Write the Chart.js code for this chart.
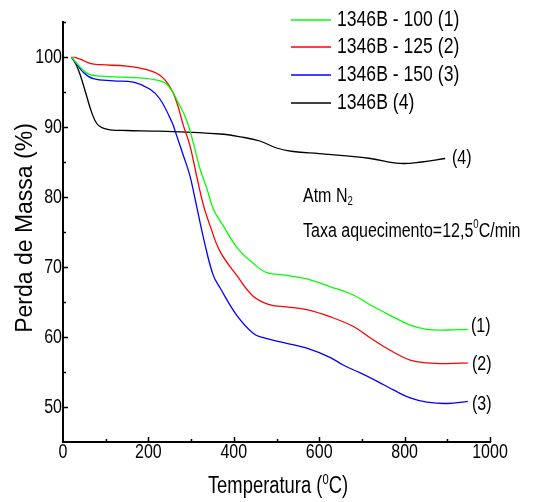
<!DOCTYPE html>
<html>
<head>
<meta charset="utf-8">
<script src="https://cdn.jsdelivr.net/npm/chart.js@4.4.1/dist/chart.umd.min.js"></script>
<style>
  html, body { margin: 0; padding: 0; background: #fff; }
  canvas { display: block; }
</style>
</head>
<body>
<canvas id="grafico" width="546" height="502"></canvas>
<script>
// datos (temperatura en C, masa en %)
const nombres = ["1346B - 100 (1)", "1346B - 125 (2)", "1346B - 150 (3)", "1346B (4)"];
const etiquetasCurva = ["(1)", "(2)", "(3)", "(4)"];
const colores = ["#00ff00", "#ff0000", "#0000ff", "#000000"];

const temp1 = [20, 32, 56, 79, 149, 211, 243, 274, 290, 305, 321, 337, 352, 375, 410, 446, 477, 524, 571, 625, 680, 719, 766, 813, 852, 900, 948];
const masa1 = [100, 99.1, 97.7, 97.3, 97.1, 96.8, 96.1, 93.0, 90.9, 87.8, 84.0, 81.2, 78.3, 75.9, 72.6, 70.5, 69.2, 68.8, 68.3, 67.2, 66.0, 64.6, 63.1, 61.7, 61.1, 61.0, 61.1];

const temp2 = [24, 40, 63, 87, 149, 196, 227, 251, 266, 282, 297, 313, 329, 345, 368, 407, 446, 485, 524, 571, 625, 680, 719, 766, 813, 852, 900, 948];
const masa2 = [100, 99.7, 99.1, 98.9, 98.7, 98.2, 97.4, 95.7, 93.6, 90.2, 87.4, 83.0, 78.8, 75.8, 72.2, 68.8, 65.8, 64.6, 64.3, 63.9, 62.9, 61.5, 59.9, 58.1, 56.7, 56.3, 56.2, 56.3];

const temp3 = [20, 32, 48, 71, 118, 165, 204, 227, 255, 266, 282, 297, 309, 333, 352, 368, 407, 446, 469, 524, 571, 625, 656, 695, 735, 775, 813, 852, 900, 948];
const masa3 = [100, 99.0, 97.8, 96.9, 96.6, 96.4, 95.4, 94.0, 90.7, 88.8, 85.9, 83.1, 79.8, 73.1, 68.8, 67.0, 63.1, 60.5, 59.9, 59.1, 58.4, 57.1, 56.0, 54.9, 53.7, 52.4, 51.3, 50.7, 50.5, 50.8];

const temp4 = [20, 30, 40, 55, 67, 79, 91, 110, 149, 227, 368, 415, 461, 500, 539, 600, 656, 720, 789, 840, 895];
const masa4 = [100, 99.0, 97.5, 94.5, 92.1, 90.5, 89.9, 89.6, 89.5, 89.4, 89.0, 88.6, 88.0, 87.0, 86.5, 86.2, 85.9, 85.5, 84.8, 85.0, 85.5];

const ticksX = [0, 200, 400, 600, 800, 1000];
const ticksY = [50, 60, 70, 80, 90, 100];

const fuente = '"Liberation Sans", Arial, sans-serif';
const angosto = 0.8; // el texto original esta comprimido en horizontal

function puntos(xs, ys) {
  return xs.map((x, i) => ({ x: x, y: ys[i] }));
}

const series = [
  puntos(temp1, masa1),
  puntos(temp2, masa2),
  puntos(temp3, masa3),
  puntos(temp4, masa4),
];

// escribe texto comprimido; partes = [texto, desplazamiento vertical]
// desplazamiento distinto de 0 => superindice / subindice
function texto(ctx, partes, x, y, tam, alinear) {
  ctx.save();
  const anchos = partes.map(([t, d]) => {
    ctx.font = `${d === 0 ? tam : Math.round(tam * 0.62)}px ${fuente}`;
    return ctx.measureText(t).width;
  });
  const total = anchos.reduce((a, b) => a + b, 0) * angosto;
  let x0 = x;
  if (alinear === "center") x0 = x - total / 2;
  if (alinear === "right") x0 = x - total;
  ctx.translate(x0, y);
  ctx.scale(angosto, 1);
  ctx.textAlign = "left";
  let cx = 0;
  partes.forEach(([t, d], i) => {
    ctx.font = `${d === 0 ? tam : Math.round(tam * 0.62)}px ${fuente}`;
    ctx.fillText(t, cx, d);
    cx += anchos[i];
  });
  ctx.restore();
}

// ticks hacia adentro, etiquetas de ejes, leyenda y anotaciones
const extras = {
  id: "extras",
  afterDraw(chart) {
    const ctx = chart.ctx;
    const xs = chart.scales.x;
    const ys = chart.scales.y;
    const area = chart.chartArea;
    ctx.save();
    ctx.strokeStyle = "#000";
    ctx.lineWidth = 1.5;
    ctx.beginPath();
    for (let v = 100; v <= 1000; v += 100) {
      const px = Math.round(xs.getPixelForValue(v)) + 0.5;
      const largo = v % 200 === 0 ? 5 : 3;
      ctx.moveTo(px, area.bottom);
      ctx.lineTo(px, area.bottom - largo);
    }
    for (let v = 50; v <= 105; v += 5) {
      const py = Math.round(ys.getPixelForValue(v)) + 0.5;
      const largo = v % 10 === 0 ? 5 : 3;
      ctx.moveTo(area.left, py);
      ctx.lineTo(area.left + largo, py);
    }
    ctx.stroke();

    ctx.fillStyle = "#000";
    ctx.textBaseline = "middle";

    // numeros de los ejes
    ticksX.forEach((v) => {
      texto(ctx, [[String(v), 0]], xs.getPixelForValue(v), 452, 20, "center");
    });
    ticksY.forEach((v) => {
      texto(ctx, [[String(v), 0]], area.left - 1, ys.getPixelForValue(v), 20, "right");
    });

    // leyenda
    const filas = [20, 47, 75, 103];
    chart.data.datasets.forEach((ds, i) => {
      ctx.strokeStyle = ds.borderColor;
      ctx.lineWidth = 1.3;
      ctx.beginPath();
      ctx.moveTo(291, filas[i]);
      ctx.lineTo(331, filas[i]);
      ctx.stroke();
      texto(ctx, [[ds.label, 0]], 337, filas[i], 22);
    });

    // etiquetas de cada curva
    texto(ctx, [[etiquetasCurva[3], 0]], 452, 158, 20);
    texto(ctx, [[etiquetasCurva[0], 0]], 471, 326, 20);
    texto(ctx, [[etiquetasCurva[1], 0]], 472, 364, 20);
    texto(ctx, [[etiquetasCurva[2], 0]], 472, 404, 20);

    texto(ctx, [["Atm N", 0], ["2", 6]], 303, 196, 20);
    texto(ctx, [["Taxa aquecimento=12,5", 0], ["0", -6], ["C/min", 0]], 303, 231, 20);

    // titulos de ejes
    texto(ctx, [["Temperatura (", 0], ["0", -7], ["C)", 0]], 278, 487, 23, "center");

    ctx.translate(26, 228);
    ctx.rotate(-Math.PI / 2);
    ctx.textAlign = "center";
    ctx.font = `23px ${fuente}`;
    ctx.fillText("Perda de Massa (%)", 0, 0);
    ctx.restore();
  },
};

const canvas = document.getElementById("grafico");

new Chart(canvas, {
  type: "line",
  data: {
    datasets: series.map((s, i) => ({
      label: nombres[i],
      data: s,
      borderColor: colores[i],
      borderWidth: 1.3,
      pointRadius: 0,
      fill: false,
      tension: 0.4,
    })),
  },
  options: {
    responsive: false,
    animation: false,
    devicePixelRatio: 1,
    layout: { padding: { left: 0, top: 22, right: 56, bottom: 0 } },
    plugins: {
      legend: { display: false },
      tooltip: { enabled: false },
    },
    scales: {
      x: {
        type: "linear",
        min: 0,
        max: 1000,
        afterFit: (scale) => { scale.height = 60; },
        grid: { display: false, drawTicks: false },
        border: { display: true, color: "#000", width: 2 },
        ticks: { display: false },
      },
      y: {
        min: 45,
        max: 105,
        afterFit: (scale) => { scale.width = 63; },
        grid: { display: false, drawTicks: false },
        border: { display: true, color: "#000", width: 2 },
        ticks: { display: false },
      },
    },
  },
  plugins: [extras],
});
</script>
</body>
</html>
